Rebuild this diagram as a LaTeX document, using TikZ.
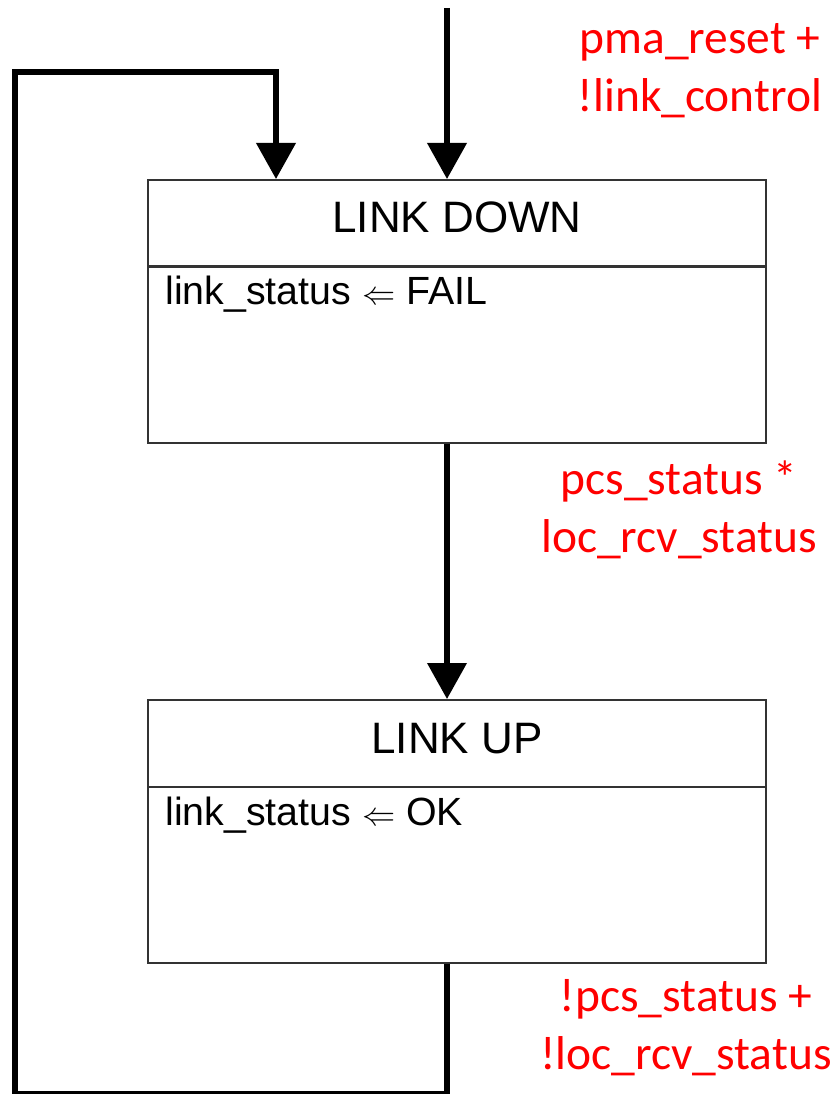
\documentclass[tikz,border=0pt]{standalone}
\usepackage{fontspec}
\setmainfont{Liberation Sans}
\newfontfamily\guardfont{Carlito}
\usetikzlibrary{arrows.meta}
\begin{document}
\begin{tikzpicture}[x=0.75pt,y=-0.75pt,
  statehead/.style={draw=black!80, line width=1.5pt, minimum width=618*0.75pt,
    minimum height=87*0.75pt, inner sep=0pt},
  statebody/.style={draw=black!80, line width=1.5pt, minimum width=618*0.75pt,
    minimum height=176*0.75pt, inner sep=0pt},
  title/.style={anchor=base, inner sep=0pt, font=\fontsize{33}{40}\selectfont},
  action/.style={anchor=base west, inner sep=0pt, font=\fontsize{29.5}{35}\selectfont},
  guard/.style={text=red, align=center, inner sep=0pt,
    font=\guardfont\fontsize{35.6}{43.5}\selectfont},
  flow/.style={line width=3.8pt, -{Triangle[width=29pt,length=27pt]}},
  ]
\useasboundingbox (0,0) rectangle (836,1094);

% LINK DOWN state
\node[statehead] (dhead) at (457,223.5) {};
\node[statebody] (dbody) at (457,354.5) {};
\node[title] (dtitle) at (457,233) {LINK DOWN};
\node[action] (daction) at (165,305) {link\_status $\Leftarrow$ FAIL};

% LINK UP state
\node[statehead] (uhead) at (457,743.5) {};
\node[statebody] (ubody) at (457,874.5) {};
\node[title] (utitle) at (457,753) {LINK UP};
\node[action] (uaction) at (165,825) {link\_status $\Leftarrow$ OK};

% transition conditions
\node[guard] (g1) at (700,71) {pma\_reset +\\!link\_control};
\node[guard] (g2) at (679,510) {pcs\_status *\\loc\_rcv\_status};
\node[guard] (g3) at (686,1028) {!pcs\_status +\\!loc\_rcv\_status};

% connector waypoints
\coordinate (entry) at (447,8);
\coordinate (lb) at (447,1093.5);
\coordinate (lbl) at (15,1093.5);
\coordinate (ltl) at (15,72);
\coordinate (ltr) at (276,72);

% transitions
\draw[flow] (entry) -- (entry |- dhead.north);
\draw[flow] (dbody.south -| entry) -- (uhead.north -| entry);
\draw[flow] (ubody.south -| entry) -- (lb) -- (lbl) -- (ltl) -- (ltr) -- (ltr |- dhead.north);
\end{tikzpicture}
\end{document}
